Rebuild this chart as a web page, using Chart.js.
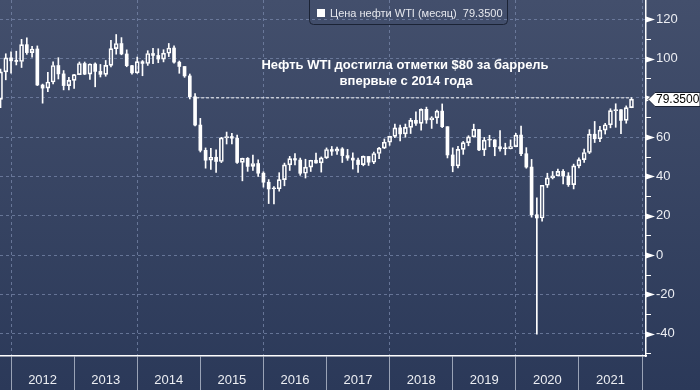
<!DOCTYPE html>
<html>
<head>
<meta charset="utf-8">
<script src="https://cdn.jsdelivr.net/npm/chart.js@4.4.1/dist/chart.umd.min.js"></script>
<style>
    html, body { margin: 0; padding: 0; background: #2c3a5a; }
    #wrap { width: 700px; height: 390px; }
</style>
</head>
<body>
<div id="wrap"><canvas id="chart-wti" width="700" height="390"></canvas></div>
<script>
// monthly WTI candles, Oct 2011 .. Oct 2021 (month index 0 = Jan 2012)
const monthOffset = -3;
const yearLabels = ['2012', '2013', '2014', '2015', '2016', '2017', '2018', '2019', '2020', '2021'];
const seriesName = 'Цена нефти WTI (месяц)';
const lastPrice = 79.35;
const markLevel = 80;
const markFrom = 34.2;
const headline = ['Нефть WTI достигла отметки $80 за баррель', 'впервые с 2014 года'];
const yTickValues = [-50, -40, -30, -20, -10, 0, 10, 20, 30, 40, 50, 60, 70, 80, 90, 100, 110, 120];

const opens = [
    79.20, 93.19, 100.36,
    98.83, 98.48, 107.07, 103.02, 104.87, 86.53, 84.96, 88.06, 96.47, 92.19, 86.24, 88.91,
    91.82, 97.49, 92.05, 97.23, 93.46, 91.97, 96.56, 105.03, 107.65, 102.33, 96.38, 92.72,
    98.42, 97.49, 102.59, 101.58, 99.74, 102.71, 105.37, 98.17, 95.96, 91.16, 80.54, 66.15,
    53.27, 48.24, 49.76, 47.60, 59.63, 60.30, 59.47, 47.12, 49.20, 45.09, 46.59, 41.65,
    37.04, 33.62, 33.75, 38.34, 45.92, 49.10, 48.33, 41.60, 44.70, 48.24, 46.86, 49.44,
    53.72, 52.81, 54.01, 50.60, 49.33, 48.32, 46.04, 50.17, 47.23, 51.67, 54.38, 57.40,
    60.42, 64.73, 61.64, 64.94, 68.57, 67.04, 74.15, 68.76, 69.80, 73.25, 65.31, 50.93,
    45.41, 53.79, 57.22, 60.14, 63.91, 53.50, 58.47, 58.58, 55.10, 54.07, 54.18, 55.17,
    61.06, 51.56, 44.76, 20.48, 18.84, 35.49, 39.27, 40.27, 42.61, 40.22, 35.79, 45.34,
    48.52, 52.20, 61.50, 59.16, 63.58, 66.32, 73.47, 73.95, 68.50, 75.03
];
const highs = [
    94.65, 102.44, 103.37,
    103.74, 109.77, 110.55, 106.28, 106.43, 87.00, 92.94, 98.29, 100.42, 93.89, 90.47, 91.99,
    98.24, 98.24, 97.35, 97.80, 97.00, 99.03, 109.32, 112.24, 110.66, 104.43, 96.50, 100.75,
    98.99, 103.99, 105.22, 104.99, 104.50, 107.68, 106.50, 98.74, 95.96, 92.14, 82.16, 69.55,
    54.50, 54.24, 53.60, 59.90, 62.58, 61.98, 61.07, 49.32, 49.62, 50.92, 48.41, 42.40,
    38.39, 34.82, 41.90, 46.78, 50.21, 51.67, 49.34, 48.75, 48.18, 51.93, 49.92, 54.51,
    55.24, 54.94, 54.66, 53.76, 52.00, 49.34, 50.43, 50.22, 52.43, 54.83, 59.05, 60.51,
    66.66, 66.08, 66.66, 69.56, 72.90, 74.46, 75.27, 70.40, 73.78, 76.90, 65.31, 54.55,
    55.37, 57.81, 60.73, 66.60, 64.00, 59.88, 60.94, 58.76, 63.38, 56.92, 58.61, 61.93,
    65.65, 54.66, 48.66, 29.13, 35.52, 41.63, 42.52, 43.78, 43.43, 41.93, 46.26, 49.43,
    53.93, 63.81, 67.98, 65.47, 67.01, 74.45, 76.98, 74.00, 75.91, 80.11
];
const lows = [
    74.95, 89.17, 92.52,
    96.74, 95.44, 102.14, 100.68, 86.24, 77.28, 83.13, 87.10, 89.60, 84.05, 84.05, 84.85,
    91.77, 91.85, 89.33, 85.61, 90.62, 91.00, 95.80, 102.22, 101.90, 95.82, 92.00, 92.45,
    91.24, 96.50, 97.37, 97.87, 98.30, 101.00, 97.62, 92.50, 90.43, 79.44, 65.69, 52.44,
    44.20, 43.58, 42.03, 47.05, 56.51, 56.51, 46.68, 37.75, 42.58, 43.04, 40.00, 34.53,
    26.19, 26.05, 32.50, 35.24, 43.03, 45.83, 40.57, 39.19, 42.52, 46.70, 42.20, 49.10,
    50.71, 51.22, 47.09, 48.18, 43.76, 42.05, 45.40, 45.58, 46.46, 49.10, 54.18, 55.82,
    59.68, 58.07, 59.95, 61.84, 66.01, 63.59, 67.03, 64.43, 67.04, 64.86, 49.41, 42.36,
    44.35, 51.23, 55.60, 60.00, 53.06, 50.60, 55.11, 50.52, 52.84, 50.99, 54.00, 55.05,
    50.58, 44.18, 19.27, -40.32, 17.27, 34.36, 38.72, 40.27, 36.13, 34.92, 33.64, 44.31,
    47.18, 51.61, 57.25, 57.63, 61.56, 64.73, 65.01, 61.74, 67.08, 74.96
];
const closes = [
    93.19, 100.36, 98.83,
    98.48, 107.07, 103.02, 104.87, 86.53, 84.96, 88.06, 96.47, 92.19, 86.24, 88.91, 91.82,
    97.49, 92.05, 97.23, 93.46, 91.97, 96.56, 105.03, 107.65, 102.33, 96.38, 92.72, 98.42,
    97.49, 102.59, 101.58, 99.74, 102.71, 105.37, 98.17, 95.96, 91.16, 80.54, 66.15, 53.27,
    48.24, 49.76, 47.60, 59.63, 60.30, 59.47, 47.12, 49.20, 45.09, 46.59, 41.65, 37.04,
    33.62, 33.75, 38.34, 45.92, 49.10, 48.33, 41.60, 44.70, 48.24, 46.86, 49.44, 53.72,
    52.81, 54.01, 50.60, 49.33, 48.32, 46.04, 50.17, 47.23, 51.67, 54.38, 57.40, 60.42,
    64.73, 61.64, 64.94, 68.57, 67.04, 74.15, 68.76, 69.80, 73.25, 65.31, 50.93, 45.41,
    53.79, 57.22, 60.14, 63.91, 53.50, 58.47, 58.58, 55.10, 54.07, 54.18, 55.17, 61.06,
    51.56, 44.76, 20.48, 18.84, 35.49, 39.27, 40.27, 42.61, 40.22, 35.79, 45.34, 48.52,
    52.20, 61.50, 59.16, 63.58, 66.32, 73.47, 73.95, 68.50, 75.03, 79.35
];

const font = 'Liberation Sans, Arial, sans-serif';
const gridColor = 'rgba(120, 135, 170, 0.75)';
const clear = 'rgba(0,0,0,0)';

var upBodies = [], downBodies = [], upperWicks = [], lowerWicks = [];
opens.forEach(function (o, n) {
    var x = n + monthOffset, c = closes[n];
    var lo = Math.min(o, c), hi = Math.max(o, c);
    var body = { x: x, y: [lo, Math.max(hi, lo + 0.6)] };
    (c >= o ? upBodies : downBodies).push(body);
    upperWicks.push({ x: x, y: [hi, highs[n]] });
    lowerWicks.push({ x: x, y: [lows[n], lo] });
});

// year separators sit one month before each January candle, labels mid-year
var xTicks = [];
for (var k = 0; k <= yearLabels.length; k++) {
    xTicks.push(12 * k - 1);
    if (k < yearLabels.length) xTicks.push(12 * k + 5);
}
function isSeparator(v) { return (v + 1) % 12 === 0; }

const background = {
    id: 'background',
    beforeDraw(chart) {
        const ctx = chart.ctx;
        const g = ctx.createLinearGradient(0, 0, 0, chart.height);
        g.addColorStop(0, '#434f6c');
        g.addColorStop(1, '#2b3959');
        ctx.save();
        ctx.fillStyle = g;
        ctx.fillRect(0, 0, chart.width, chart.height);
        ctx.restore();
    }
};

const overlay = {
    id: 'overlay',
    afterDraw(chart) {
        const ctx = chart.ctx;
        const ys = chart.scales.y;
        const ax = ys.left;
        ctx.save();
        // tick marks on the price axis
        ctx.fillStyle = '#ffffff';
        ctx.strokeStyle = '#ffffff';
        ctx.lineWidth = 1;
        yTickValues.forEach(function (v) {
            const py = Math.round(ys.getPixelForValue(v)) + 0.5;
            if (v % 20 === 0) {
                ctx.beginPath();
                ctx.moveTo(ax, py - 3);
                ctx.lineTo(ax + 9, py);
                ctx.lineTo(ax, py + 3);
                ctx.closePath();
                ctx.fill();
            } else {
                ctx.beginPath();
                ctx.moveTo(ax, py);
                ctx.lineTo(ax + 5, py);
                ctx.stroke();
            }
        });

        // last price tag
        const ty = Math.round(ys.getPixelForValue(lastPrice)) + 0.5;
        ctx.beginPath();
        ctx.moveTo(ax + 2, ty);
        ctx.lineTo(ax + 9, ty - 7);
        ctx.lineTo(700, ty - 7);
        ctx.lineTo(700, ty + 7);
        ctx.lineTo(ax + 9, ty + 7);
        ctx.closePath();
        ctx.fillStyle = '#ffffff';
        ctx.fill();
        ctx.strokeStyle = '#1a2234';
        ctx.stroke();
        ctx.fillStyle = '#000000';
        ctx.font = '12px ' + font;
        ctx.textBaseline = 'middle';
        ctx.textAlign = 'left';
        ctx.fillText(lastPrice.toFixed(4), ax + 10, ty);

        // legend box
        ctx.beginPath();
        ctx.roundRect(309.5, -5.5, 198, 30, 4);
        ctx.strokeStyle = '#1b2335';
        ctx.stroke();
        ctx.fillStyle = '#ffffff';
        ctx.fillRect(317, 9, 8, 8);
        ctx.fillStyle = '#e6e8ee';
        ctx.font = '11px ' + font;
        ctx.fillText(seriesName + '  ' + lastPrice.toFixed(4), 330, 13.5);

        // headline
        ctx.fillStyle = '#ffffff';
        ctx.font = 'bold 13px ' + font;
        ctx.textAlign = 'center';
        ctx.fillText(headline[0], 405, 65);
        ctx.fillText(headline[1], 406, 81);
        ctx.restore();
    }
};

var ctx = document.getElementById('chart-wti');
var myChart = new Chart(ctx, {
    type: 'bar',
    data: {
        datasets: [
            {
                type: 'line',
                data: [{ x: markFrom, y: markLevel }, { x: opens.length - 1 + monthOffset, y: markLevel }],
                borderColor: '#ffffff',
                borderWidth: 1,
                borderDash: [3, 2],
                pointRadius: 0
            },
            { data: upperWicks, backgroundColor: '#ffffff', barThickness: 1 },
            { data: lowerWicks, backgroundColor: '#ffffff', barThickness: 1 },
            {
                data: upBodies,
                backgroundColor: clear,
                borderColor: '#ffffff',
                borderWidth: 1,
                borderSkipped: false,
                barThickness: 4
            },
            { data: downBodies, backgroundColor: '#ffffff', borderWidth: 0, barThickness: 3 }
        ]
    },
    options: {
        responsive: false,
        animation: false,
        layout: { padding: 0, autoPadding: false },
        datasets: { bar: { grouped: false } },
        plugins: { legend: { display: false }, tooltip: { enabled: false } },
        scales: {
            x: {
                type: 'linear',
                offset: false,
                min: -3.1,
                max: 119.76,
                afterBuildTicks: function (s) { s.ticks = xTicks.map(function (v) { return { value: v }; }); },
                afterFit: function (s) { s.height = 34; s.paddingLeft = 0; s.paddingRight = 0; },
                grid: {
                    offset: false,
                    color: function (c) {
                        var v = c.tick ? c.tick.value : 0;
                        return isSeparator(v) && ((v + 1) / 12) % 2 === 0 ? gridColor : clear;
                    },
                    tickColor: function (c) {
                        return c.tick && isSeparator(c.tick.value) ? '#9aa3b6' : clear;
                    },
                    tickLength: 34,
                    lineWidth: 1
                },
                border: { color: '#ffffff', width: 1.5, dash: [3, 3] },
                ticks: {
                    autoSkip: false,
                    maxRotation: 0,
                    padding: -17,
                    color: '#eceef3',
                    font: { family: font, size: 13 },
                    callback: function (v) {
                        return isSeparator(v) ? '' : yearLabels[(v - 5) / 12];
                    }
                }
            },
            y: {
                position: 'right',
                min: -51.4,
                max: 129.8,
                afterBuildTicks: function (s) { s.ticks = yTickValues.map(function (v) { return { value: v }; }); },
                afterFit: function (s) { s.width = 54; s.paddingTop = 0; s.paddingBottom = 0; },
                grid: {
                    color: function (c) { return c.tick && c.tick.value % 20 === 0 ? gridColor : clear; },
                    drawTicks: false,
                    lineWidth: 1
                },
                border: { color: '#ffffff', width: 1.5, dash: [3, 3] },
                ticks: {
                    padding: 10,
                    color: '#eceef3',
                    font: { family: font, size: 13 },
                    callback: function (v) { return v % 20 === 0 ? String(v) : ''; }
                }
            }
        }
    },
    plugins: [background, overlay]
});
</script>
</body>
</html>
